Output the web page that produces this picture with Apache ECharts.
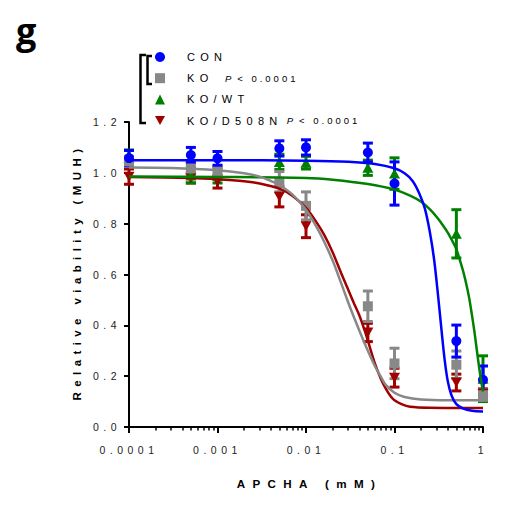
<!DOCTYPE html>
<html><head><meta charset="utf-8">
<script src="https://cdn.jsdelivr.net/npm/echarts@6/dist/echarts.min.js"></script>
<style>
html,body{margin:0;padding:0;background:#fff}
#chart{width:510px;height:505px}
text[style*="10.5px"]{letter-spacing:4.5px}
text[style*="11.5px"]{letter-spacing:5.4px}
text[style*="11.6px"]{letter-spacing:7.4px}
text[style*="11px"]{letter-spacing:5.3px}
text[style*="9.5px"]{letter-spacing:3px}
</style>
</head><body>
<div id="chart"></div>
<script>
// ---- data ----
const concentrations = [0.0001, 0.0005, 0.001, 0.005, 0.01, 0.05, 0.1, 0.5, 1];
const conMean = [1.058, 1.07, 1.057, 1.096, 1.10, 1.08, 0.958, 0.338, 0.186];
const conErr  = [0.03, 0.03, 0.027, 0.03, 0.03, 0.037, 0.085, 0.063, 0.054];
const koMean  = [1.045, 1.017, 1.0, 0.965, 0.87, 0.475, 0.25, 0.245, 0.125];
const koErr   = [0.02, 0.025, 0.025, 0.04, 0.055, 0.06, 0.06, 0.054, 0.02];
const wtMean  = [1.06, 0.99, 0.99, 1.043, 1.04, 1.02, 0.997, 0.76, 0.19];
const wtErr   = [0.03, 0.03, 0.03, 0.03, 0.025, 0.03, 0.062, 0.095, 0.09];
const d508Mean = [0.985, 0.98, 0.965, 0.906, 0.79, 0.372, 0.194, 0.175, 0.13];
const d508Err  = [0.03, 0.02, 0.025, 0.04, 0.045, 0.036, 0.037, 0.033, 0.02];

// fitted curves
const conCurveX = [0.0001, 0.001, 0.01, 0.03, 0.06, 0.1, 0.13, 0.16, 0.19, 0.22, 0.25, 0.28, 0.31, 0.34, 0.37, 0.40, 0.44, 0.50, 0.60, 0.75, 1.0];
const conCurveY = [1.050, 1.050, 1.048, 1.044, 1.035, 1.018, 0.998, 0.968, 0.920, 0.860, 0.770, 0.660, 0.520, 0.380, 0.260, 0.180, 0.125, 0.090, 0.072, 0.064, 0.061];
const wtCurveX = [0.0001, 0.001, 0.01, 0.02, 0.05, 0.1, 0.15, 0.2, 0.25, 0.3, 0.35, 0.4, 0.45, 0.5, 0.55, 0.6, 0.65, 0.7, 0.75, 0.8, 0.85, 0.9, 0.95, 1.0];
const wtCurveY = [0.986, 0.984, 0.980, 0.973, 0.956, 0.934, 0.910, 0.886, 0.857, 0.826, 0.795, 0.765, 0.732, 0.700, 0.655, 0.610, 0.560, 0.505, 0.440, 0.375, 0.305, 0.240, 0.185, 0.140];
const koCurveX = [0.0001, 0.0003, 0.001, 0.002, 0.003, 0.004, 0.005, 0.007, 0.01, 0.013, 0.016, 0.02, 0.025, 0.03, 0.035, 0.04, 0.05, 0.06, 0.07, 0.08, 0.1, 0.13, 0.2, 0.4, 1.0];
const koCurveY = [1.021, 1.019, 1.010, 0.998, 0.985, 0.968, 0.952, 0.915, 0.855, 0.790, 0.730, 0.655, 0.565, 0.490, 0.430, 0.380, 0.300, 0.240, 0.198, 0.165, 0.135, 0.118, 0.108, 0.105, 0.105];
const d508CurveX = [0.0001, 0.0005, 0.001, 0.002, 0.003, 0.005, 0.007, 0.01, 0.013, 0.016, 0.02, 0.025, 0.03, 0.035, 0.04, 0.045, 0.05, 0.06, 0.07, 0.08, 0.09, 0.1, 0.12, 0.15, 0.25, 1.0];
const d508CurveY = [0.984, 0.980, 0.975, 0.967, 0.958, 0.938, 0.910, 0.862, 0.808, 0.757, 0.688, 0.605, 0.540, 0.485, 0.440, 0.390, 0.340, 0.250, 0.190, 0.150, 0.122, 0.105, 0.090, 0.080, 0.076, 0.075];

const seriesNames = ['CON', 'KO', 'KO/WT', 'KO/D508N'];
const xTickLabels = ['0.0001', '0.001', '0.01', '0.1', '1'];
const yTickLabels = ['0.0', '0.2', '0.4', '0.6', '0.8', '1.0', '1.2'];
const pText = 'P';
const pRest = '< 0.0001';

// ---- styles ----
const FONT = 'Liberation Sans, Arial, sans-serif';
const groups = [
  {name: 'KO/D508N', mean: d508Mean, err: d508Err, cx: d508CurveX, cy: d508CurveY, color: '#A00000', symbol: 'triangle', rot: 180, size: [11, 10]},
  {name: 'KO/WT', mean: wtMean, err: wtErr, cx: wtCurveX, cy: wtCurveY, color: '#008000', symbol: 'triangle', rot: 0, size: [11, 10]},
  {name: 'KO', mean: koMean, err: koErr, cx: koCurveX, cy: koCurveY, color: '#888888', symbol: 'rect', rot: 0, size: 10},
  {name: 'CON', mean: conMean, err: conErr, cx: conCurveX, cy: conCurveY, color: '#0000FF', symbol: 'circle', rot: 0, size: 10}
];

function errRender(color) {
  return function (params, api) {
    const x = api.value(0), lo = api.value(1), hi = api.value(2);
    const p1 = api.coord([x, hi]), p2 = api.coord([x, lo]);
    const hw = 5;
    const style = {stroke: color, lineWidth: 3};
    return {type: 'group', children: [
      {type: 'line', shape: {x1: p1[0], y1: p1[1], x2: p2[0], y2: p2[1]}, style: style},
      {type: 'line', shape: {x1: p1[0] - hw, y1: p1[1], x2: p1[0] + hw, y2: p1[1]}, style: style},
      {type: 'line', shape: {x1: p2[0] - hw, y1: p2[1], x2: p2[0] + hw, y2: p2[1]}, style: style}
    ]};
  };
}

const series = [];
groups.forEach(g => {
  series.push({
    type: 'line', name: g.name + ' fit', data: g.cx.map((x, i) => [x, g.cy[i]]),
    smooth: 0.3, showSymbol: false, symbol: 'none',
    lineStyle: {color: g.color, width: 2.5}, itemStyle: {color: g.color}, silent: true
  });
});
groups.forEach(g => {
  series.push({
    type: 'custom', name: g.name + ' err', renderItem: errRender(g.color),
    data: concentrations.map((x, i) => [x, g.mean[i] - g.err[i], g.mean[i] + g.err[i]]),
    encode: {x: 0, y: [1, 2]}, silent: true
  });
  series.push({
    type: 'scatter', name: g.name, data: concentrations.map((x, i) => [x, g.mean[i]]),
    symbol: g.symbol, symbolRotate: g.rot, symbolSize: g.size,
    itemStyle: {color: g.color, opacity: 1}, silent: true
  });
});

const minorTickValues = [];
for (let e = -4; e < 0; e++) {
  for (let m = 2; m <= 9; m++) minorTickValues.push(+(m * Math.pow(10, e)).toPrecision(6));
}

const legendIcons = {
  'CON': 'circle',
  'KO': 'rect',
  'KO/WT': 'triangle',
  'KO/D508N': 'path://M0,0L10,0L5,9Z'
};

const option = {
  animation: false,
  backgroundColor: '#fff',
  grid: {left: 129, right: 27, top: 122, bottom: 78, containLabel: false},
  xAxis: [{
    type: 'log', logBase: 10, min: 0.0001, max: 1,
    axisLine: {show: true, onZero: false, lineStyle: {color: '#000', width: 2}},
    axisTick: {show: true, length: 6, lineStyle: {color: '#000', width: 2}},
    axisLabel: {
      margin: 17, fontSize: 10.5, fontFamily: FONT, color: '#222',
      formatter: v => xTickLabels[Math.round(Math.log10(v)) + 4]
    },
    splitLine: {show: false},
    name: 'APCHA (mM)', nameLocation: 'middle', nameGap: 50,
    nameTextStyle: {fontSize: 11.6, fontWeight: 'bold', fontFamily: FONT, color: '#000', padding: [0, 0, 0, 7]}
  }, {
    type: 'log', logBase: 10, min: 0.0001, max: 1, position: 'bottom', offset: 0, gridIndex: 0,
    axisLine: {show: false}, axisLabel: {show: false}, splitLine: {show: false},
    axisTick: {show: true, length: 3.5, customValues: minorTickValues, lineStyle: {color: '#000', width: 1.5}}
  }],
  yAxis: {
    type: 'value', min: 0, max: 1.2, interval: 0.2,
    axisLine: {show: true, onZero: false, lineStyle: {color: '#000', width: 2}},
    axisTick: {show: true, length: 5, lineStyle: {color: '#000', width: 2}},
    axisLabel: {
      margin: 8, fontSize: 10.5, fontFamily: FONT, color: '#222',
      formatter: v => yTickLabels[Math.round(v / 0.2)]
    },
    splitLine: {show: false},
    name: 'Relative viability (MUH)', nameLocation: 'middle', nameGap: 46,
    nameTextStyle: {fontSize: 11.5, fontWeight: 'bold', fontFamily: FONT, color: '#000', padding: [0, 0, 0, 5]}
  },
  legend: {
    orient: 'vertical', left: 155, top: 51, padding: 0, itemWidth: 10, itemHeight: 10, itemGap: 9.2,
    selectedMode: false,
    data: seriesNames.map(n => ({name: n, icon: legendIcons[n]})),
    formatter: function (name) {
      if (name === 'KO') return '{s| }{n|KO}{ga| }{pi|' + pText + '}{gb| }{pn|' + pRest + '}';
      if (name === 'KO/D508N') return '{s| }{n|KO/D508N}{gc| }{pi|' + pText + '}{gb| }{pn|' + pRest + '}';
      return '{s| }{n|' + name + '}';
    },
    textStyle: {
      fontSize: 11, fontFamily: FONT, color: '#000', lineHeight: 12,
      rich: {
        s: {fontSize: 11, width: 17, lineHeight: 12},
        ga: {fontSize: 11, width: 22, lineHeight: 12},
        gc: {fontSize: 11, width: 46.5, lineHeight: 12},
        gb: {fontSize: 11, width: 6, lineHeight: 12},
        n: {fontSize: 11, fontFamily: FONT, color: '#000', lineHeight: 12},
        pi: {fontSize: 9.5, fontFamily: FONT, fontStyle: 'italic', color: '#000', lineHeight: 12},
        pn: {fontSize: 9.5, fontFamily: FONT, color: '#000', lineHeight: 12}
      }
    }
  },
  graphic: [
    {type: 'text', left: 16, top: 12, style: {text: 'g', font: 'bold 36px "Open Sans", sans-serif', fill: '#000'}},
    {type: 'polyline', shape: {points: [[146, 55], [140.5, 55], [140.5, 123], [146, 123]]}, style: {stroke: '#000', lineWidth: 2.5, fill: null}},
    {type: 'polyline', shape: {points: [[152, 56], [147.5, 56], [147.5, 84], [152, 84]]}, style: {stroke: '#000', lineWidth: 2.5, fill: null}}
  ],
  series: series
};

const chart = echarts.init(document.getElementById('chart'), null, {renderer: 'svg'});
chart.setOption(option);
</script>
</body></html>
